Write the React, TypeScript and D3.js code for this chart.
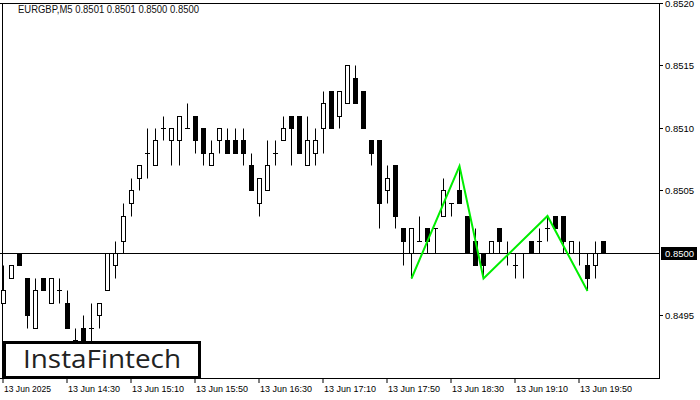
import React from "react";
import * as d3 from "d3";

const W = 700;
const H = 400;

// OHLC in price units (5-minute bars starting 13 Jun 2025 13:50)
const opens = [0.8496,0.8498,0.8500,0.8498,0.8494,0.8498,0.8496,0.8497,0.8496,0.8492,0.8494,0.8494,0.8495,0.8497,0.8499,0.8501,0.8504,0.8506,0.8508,0.8507,0.8510,0.8509,0.8509,0.8510,0.8511,0.8510,0.8507,0.8509,0.8509,0.8509,0.8509,0.8507,0.8504,0.8505,0.8508,0.8509,0.8511,0.8511,0.8507,0.8508,0.8510,0.8513,0.8511,0.8512,0.8514,0.8513,0.8509,0.8509,0.8505,0.8507,0.8502,0.8500,0.8501,0.8502,0.8502,0.8503,0.8504,0.8505,0.8503,0.8501,0.8500,0.8500,0.8502,0.8500,0.8499,0.8500,0.8501,0.8501,0.8502,0.8503,0.8503,0.8500,0.8500,0.8499,0.8499,0.8501];
const highs = [0.8499,0.8499,0.8500,0.8498,0.8498,0.8498,0.8498,0.8498,0.8497,0.8494,0.8495,0.8496,0.8496,0.8500,0.8501,0.8504,0.8506,0.8507,0.8510,0.8510,0.8511,0.8510,0.8511,0.8512,0.8511,0.8510,0.8509,0.8510,0.8510,0.8510,0.8510,0.8508,0.8506,0.8509,0.8509,0.8511,0.8511,0.8511,0.8511,0.8510,0.8513,0.8513,0.8513,0.8515,0.8515,0.8513,0.8509,0.8509,0.8507,0.8507,0.8502,0.8502,0.8503,0.8502,0.8502,0.8506,0.8504,0.8507,0.8503,0.8502,0.8500,0.8501,0.8502,0.8501,0.8500,0.8500,0.8501,0.8502,0.8503,0.8503,0.8503,0.8501,0.8501,0.8500,0.8501,0.8501];
const lows = [0.8496,0.8498,0.8499,0.8494,0.8494,0.8497,0.8496,0.8496,0.8494,0.8491,0.8491,0.8492,0.8494,0.8497,0.8498,0.8500,0.8503,0.8505,0.8506,0.8507,0.8509,0.8507,0.8507,0.8510,0.8508,0.8507,0.8507,0.8508,0.8508,0.8508,0.8507,0.8505,0.8503,0.8505,0.8507,0.8509,0.8507,0.8508,0.8507,0.8507,0.8508,0.8510,0.8510,0.8512,0.8512,0.8510,0.8507,0.8502,0.8504,0.8502,0.8499,0.8498,0.8501,0.8500,0.8500,0.8503,0.8503,0.8504,0.8500,0.8499,0.8498,0.8500,0.8500,0.8499,0.8498,0.8498,0.8500,0.8500,0.8501,0.8502,0.8500,0.8500,0.8499,0.8497,0.8498,0.8500];
const closes = [0.8497,0.8499,0.8499,0.8495,0.8497,0.8497,0.8498,0.8497,0.8494,0.8493,0.8492,0.8494,0.8496,0.8500,0.8500,0.8503,0.8505,0.8507,0.8508,0.8509,0.8510,0.8510,0.8511,0.8510,0.8509,0.8508,0.8508,0.8510,0.8508,0.8508,0.8508,0.8505,0.8506,0.8507,0.8508,0.8510,0.8510,0.8508,0.8509,0.8509,0.8512,0.8510,0.8513,0.8515,0.8512,0.8510,0.8508,0.8504,0.8506,0.8503,0.8501,0.8502,0.8501,0.8501,0.8502,0.8505,0.8504,0.8504,0.8500,0.8499,0.8499,0.8501,0.8501,0.8500,0.8499,0.8500,0.8500,0.8501,0.8502,0.8502,0.8501,0.8501,0.8500,0.8498,0.8500,0.8500];

// Pattern line (bar index, price)
const patternIdx = [51, 57, 60, 68, 73];
const patternPrice = [0.8498, 0.8507, 0.8498, 0.8503, 0.8497];

const priceTicks = [0.8520, 0.8515, 0.8510, 0.8505, 0.8495];
const currentPrice = 0.85;
const timeTickIdx = [0, 8, 16, 24, 32, 40, 48, 56, 64, 72];
const timeTickLabels = ["13 Jun 2025", "13 Jun 14:30", "13 Jun 15:10", "13 Jun 15:50", "13 Jun 16:30", "13 Jun 17:10", "13 Jun 17:50", "13 Jun 18:30", "13 Jun 19:10", "13 Jun 19:50"];

const headerText = "EURGBP,M5  0.8501 0.8501 0.8500 0.8500";

const plotRight = 659;
const plotTop = 3;
const plotBottom = 378;

const yRaw = d3.scaleLinear().domain([0.849, 0.852]).range([378.5, 3.5]);
const y = (p: number) => Math.floor(yRaw(p)) + 0.5;
const x = d3.scaleLinear().domain([0, 1]).range([3.5, 11.5]);

const font = "'Liberation Sans', Arial, sans-serif";

export default function App() {
  const candles = opens.map((o, i) => {
    const c = closes[i];
    const hi = highs[i];
    const lo = lows[i];
    const cx = x(i);
    const yo = y(o);
    const yc = y(c);
    const top = Math.min(yo, yc);
    const bot = Math.max(yo, yc);
    const bull = c > o;
    const doji = c === o;
    return (
      <g key={i}>
        <line x1={cx} x2={cx} y1={y(hi)} y2={y(lo)} stroke="#000" strokeWidth={1} />
        {doji ? (
          <line x1={cx - 2.5} x2={cx + 2.5} y1={yo} y2={yo} stroke="#000" strokeWidth={1} />
        ) : (
          <rect x={cx - 2} y={top} width={4} height={bot - top} fill={bull ? "#fff" : "#000"} stroke="#000" strokeWidth={1} />
        )}
      </g>
    );
  });

  const patternLine = d3
    .line<number>()
    .x((_, i) => x(patternIdx[i]))
    .y((p) => yRaw(p))(patternPrice);

  return (
    <svg width={W} height={H} style={{ position: "absolute", left: 0, top: 0, background: "#fff" }}>
      <rect x={0} y={0} width={W} height={H} fill="#fff" />
      {/* frame */}
      <line x1={0} x2={plotRight + 0.5} y1={plotTop + 0.5} y2={plotTop + 0.5} stroke="#000" />
      <line x1={0} x2={plotRight + 0.5} y1={plotBottom + 0.5} y2={plotBottom + 0.5} stroke="#000" />
      <line x1={plotRight + 0.5} x2={plotRight + 0.5} y1={plotTop} y2={plotBottom + 1} stroke="#000" />
      <line x1={2.5} x2={2.5} y1={plotTop} y2={plotBottom + 1} stroke="#000" />

      <text x={18} y={13} fontFamily={font} fontSize={10} fill="#111" textLength={181} lengthAdjust="spacingAndGlyphs">
        {headerText}
      </text>

      {candles}

      {/* current price line */}
      <line x1={0} x2={plotRight} y1={y(currentPrice)} y2={y(currentPrice)} stroke="#000" strokeWidth={1} />

      {/* pattern */}
      <path d={patternLine || ""} fill="none" stroke="#00ee00" strokeWidth={2} />

      {/* price axis */}
      {priceTicks.map((p) => (
        <g key={p}>
          <line x1={plotRight} x2={plotRight + 4} y1={y(p)} y2={y(p)} stroke="#000" />
          <text x={665} y={y(p) + 3.5} fontFamily={font} fontSize={9.5} fill="#000">
            {p.toFixed(4)}
          </text>
        </g>
      ))}
      <rect x={661} y={247} width={36} height={13} fill="#000" />
      <text x={665} y={y(currentPrice) + 3.5} fontFamily={font} fontSize={9.5} fill="#fff">
        {currentPrice.toFixed(4)}
      </text>

      {/* time axis */}
      {timeTickIdx.map((idx, k) => (
        <g key={idx}>
          <line x1={x(idx) - 0.5} x2={x(idx) - 0.5} y1={plotBottom} y2={plotBottom + 5} stroke="#000" />
          <text x={x(idx) + 0.5} y={392} fontFamily={font} fontSize={9.5} fill="#000" textLength={timeTickLabels[k].length > 11 ? 52 : 47} lengthAdjust="spacingAndGlyphs">
            {timeTickLabels[k]}
          </text>
        </g>
      ))}

      {/* logo */}
      <rect x={4.5} y={342.5} width={195} height={35} fill="#fff" stroke="#000" strokeWidth={3} />
      <text x={23} y={368} fontFamily="'Open Sans', 'Noto Sans', sans-serif" fontWeight={500} fontSize={26} fill="#222" textLength={158} lengthAdjust="spacingAndGlyphs">
        InstaFintech
      </text>
    </svg>
  );
}
